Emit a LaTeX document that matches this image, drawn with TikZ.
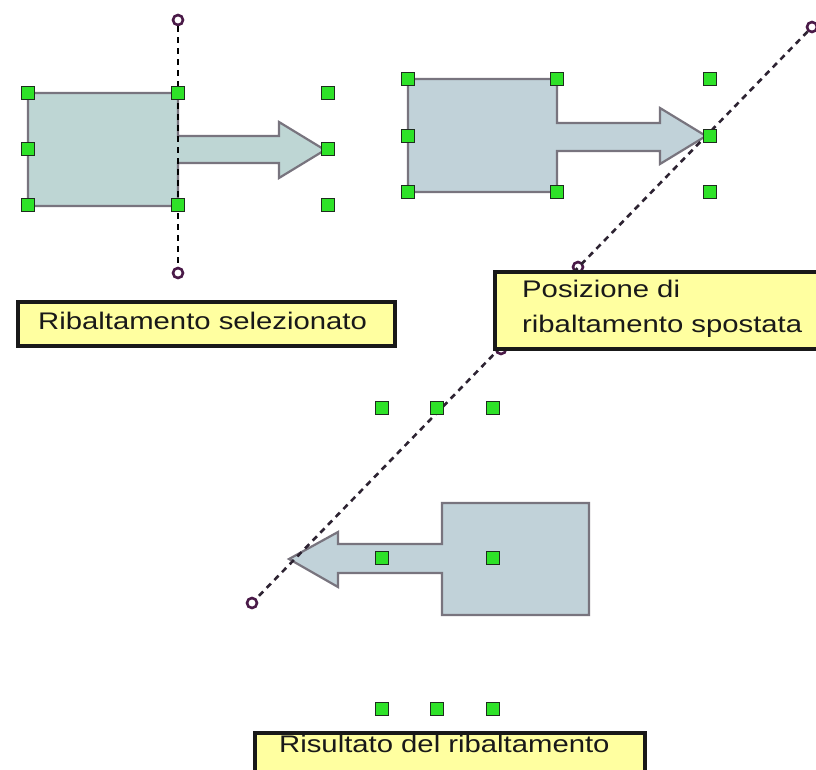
\documentclass[tikz,border=0pt]{standalone}
\usepackage{fontspec}
\setmainfont{Liberation Sans}
\newcommand{\widetext}[1]{\scalebox{1.22}[1]{#1}}
\definecolor{handlegreen}{RGB}{46,226,40}
\definecolor{handleedge}{RGB}{30,45,30}
\definecolor{shapeA}{RGB}{190,214,212}
\definecolor{shapeB}{RGB}{193,210,217}
\definecolor{shapeedge}{RGB}{120,116,126}
\definecolor{notefill}{RGB}{255,255,160}
\definecolor{pivotcol}{RGB}{74,26,72}
\definecolor{axiscol}{RGB}{45,35,50}
\tikzset{
  x=1pt, y=-1pt,
  handle/.style={rectangle, draw=handleedge, fill=handlegreen, line width=1.5pt,
    minimum size=13pt, inner sep=0pt},
  pivot/.style={circle, draw=pivotcol, fill=white, line width=2.6pt,
    minimum size=10pt, inner sep=0pt},
  flipaxis/.style={draw=axiscol, line width=2.6pt, dash pattern=on 6pt off 5pt},
  flipshape/.style={draw=shapeedge, line width=2.2pt, line join=miter},
  notebox/.style={rectangle, draw=black!90, fill=notefill, line width=3.5pt,
    inner sep=0pt, anchor=north west},
  notetext/.style={anchor=base west, inner sep=0pt, text=black!90,
    font=\fontsize{24}{35}\selectfont}
}
\begin{document}
\begin{tikzpicture}
\clip (0,0) rectangle (816,769);
\fill[white] (0,0) rectangle (816,769);

% --- first panel: selected object with vertical flip axis
\filldraw[flipshape, fill=shapeA]
  (28,93) -- (178,93) -- (178,136) -- (279,136) -- (279,122) -- (325,150)
  -- (279,178) -- (279,163) -- (178,163) -- (178,206) -- (28,206) -- cycle;
\node[pivot] (va) at (178,20) {};
\node[pivot] (vb) at (178,273) {};
\draw[flipaxis, draw=black] (va) -- (vb);
\foreach \n/\p in {a1/{28,93}, a2/{178,93}, a3/{328,93},
                   a4/{28,149}, a5/{328,149},
                   a6/{28,205}, a7/{178,205}, a8/{328,205}}
  \node[handle] (\n) at (\p) {};

% --- second panel: flip axis moved onto a diagonal
\filldraw[flipshape, fill=shapeB]
  (408,79) -- (557,79) -- (557,123) -- (660,123) -- (660,108) -- (706,136)
  -- (660,164) -- (660,151) -- (557,151) -- (557,192) -- (408,192) -- cycle;

% --- third panel: flipped result
\filldraw[flipshape, fill=shapeB]
  (589,503) -- (442,503) -- (442,544) -- (338,544) -- (338,532) -- (289,559)
  -- (338,587) -- (338,573) -- (442,573) -- (442,615) -- (589,615) -- cycle;

\node[pivot] (da) at (812,27) {};
\node[pivot] (db) at (578,267) {};
\node[pivot] (dc) at (501,349) {};
\node[pivot] (dd) at (252,603) {};
\draw[flipaxis] (da) -- (dd);

\foreach \n/\p in {b1/{408,79}, b2/{557,79}, b3/{710,79},
                   b4/{408,136}, b5/{710,136},
                   b6/{408,192}, b7/{557,192}, b8/{710,192}}
  \node[handle] (\n) at (\p) {};
\foreach \n/\p in {c1/{382,408}, c2/{437,408}, c3/{493,408},
                   c4/{382,558}, c5/{493,558},
                   c6/{382,709}, c7/{437,709}, c8/{493,709}}
  \node[handle] (\n) at (\p) {};

% --- captions
\node[notebox, minimum width=377pt, minimum height=44pt] (cap1) at (16,300) {};
\node[notetext] (cap1t) at (38,329) {\widetext{Ribaltamento selezionato}};

\node[notebox, minimum width=340pt, minimum height=77pt] (cap2) at (493,270) {};
\node[notetext] (cap2a) at (522,297) {\widetext{Posizione di}};
\node[notetext] (cap2b) at (522,332) {\widetext{ribaltamento spostata}};

\node[notebox, minimum width=390pt, minimum height=60pt] (cap3) at (253,731) {};
\node[notetext] (cap3t) at (279,752) {\widetext{Risultato del ribaltamento}};
\end{tikzpicture}
\end{document}
